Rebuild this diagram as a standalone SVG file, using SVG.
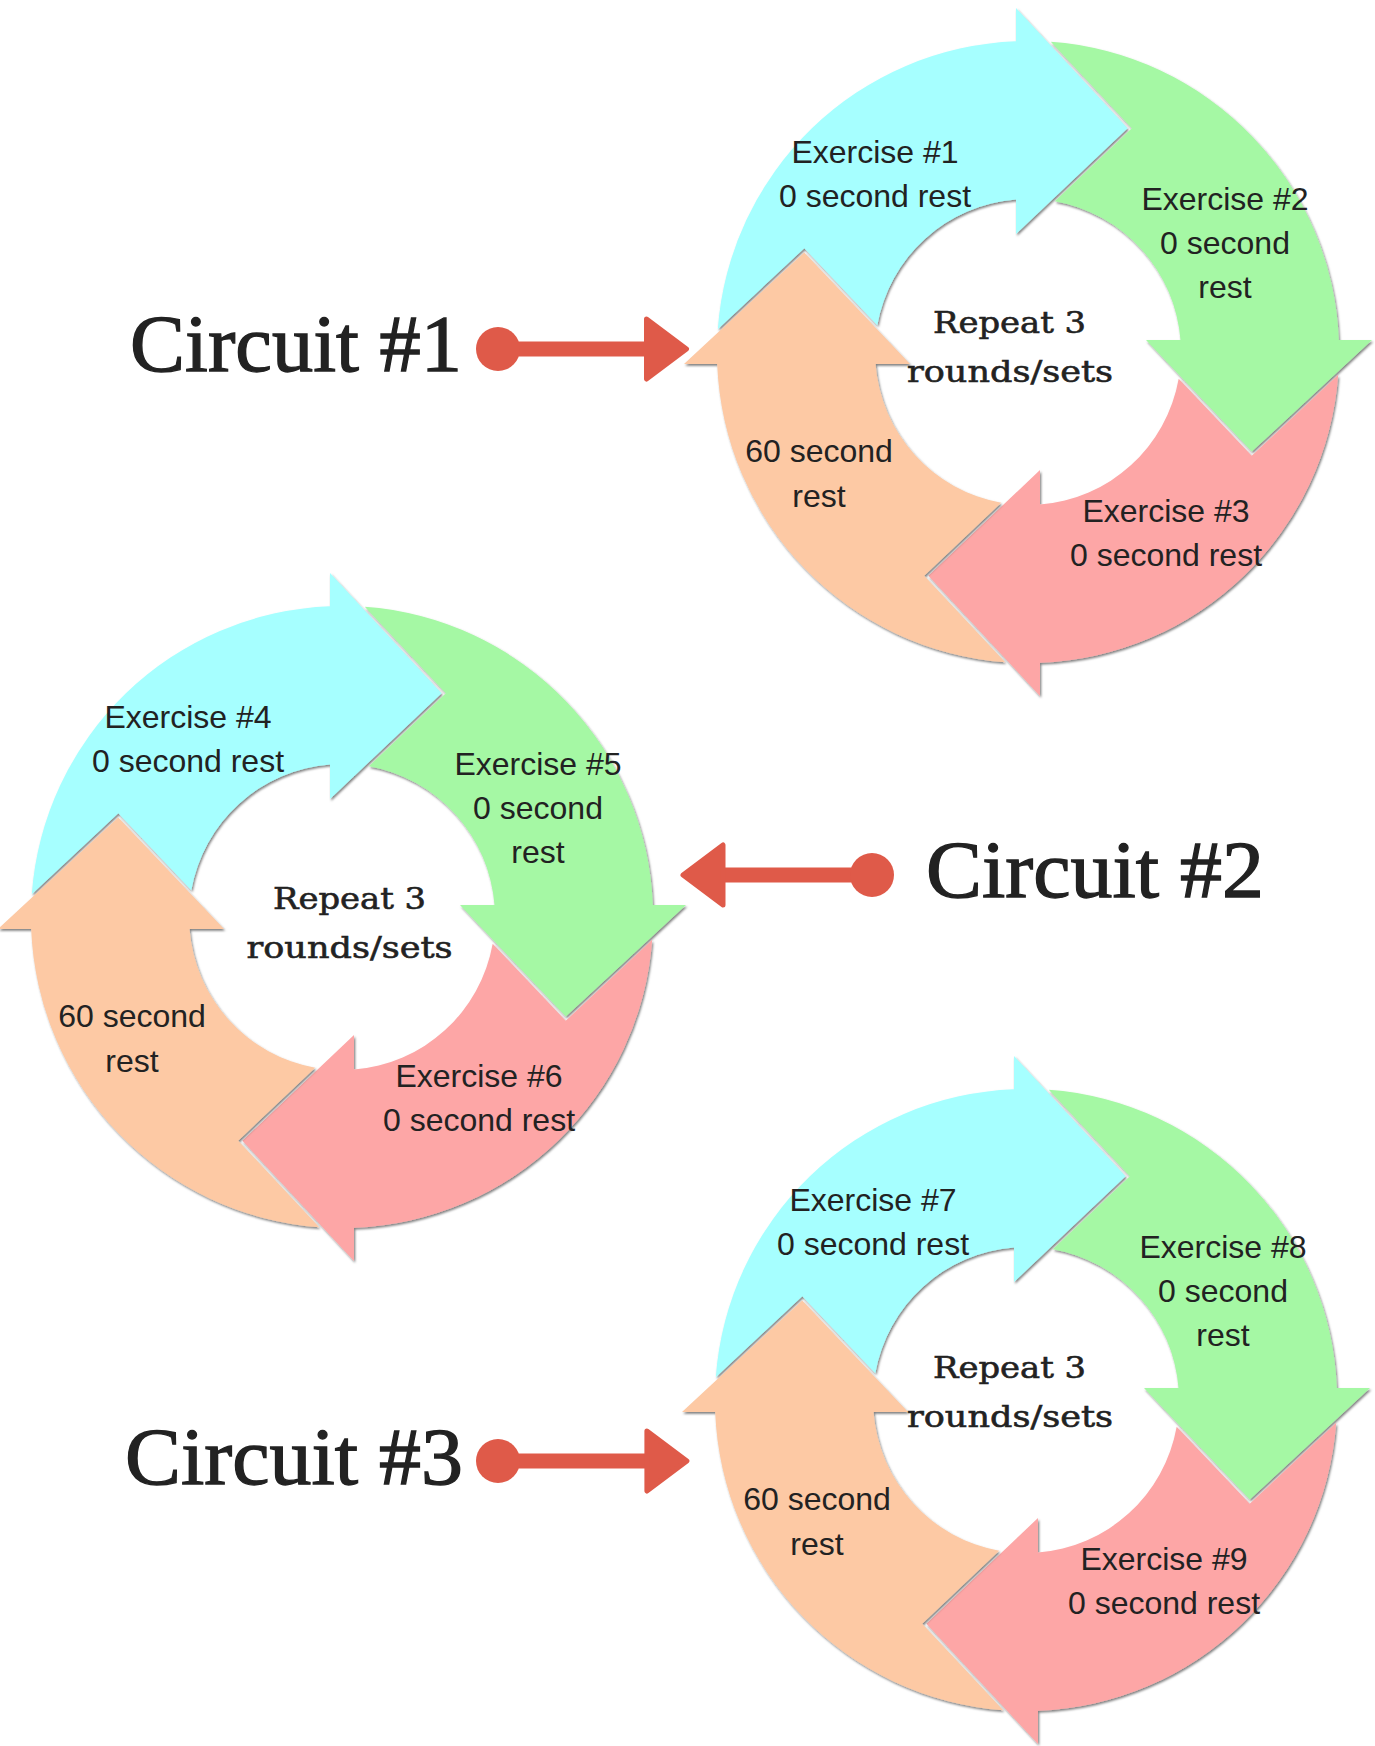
<svg xmlns="http://www.w3.org/2000/svg" xmlns:xlink="http://www.w3.org/1999/xlink" width="1375" height="1746" viewBox="0 0 1375 1746">
<style>
.lbl{font-family:"Liberation Sans",Arial,sans-serif;font-size:32px;fill:#222;text-anchor:middle}
.hub{font-family:"DejaVu Serif","Liberation Serif",serif;font-size:30px;fill:#222;stroke:#222;stroke-width:0.6}
.title{font-family:"Liberation Serif","Times New Roman",serif;font-size:81px;fill:#222;stroke:#222;stroke-width:1.3}
.cy{fill:#A6FFFF}.gr{fill:#A5F8A4}.pk{fill:#FDA6A6}.pc{fill:#FDC9A4}
.conn{stroke:#DF5A49;stroke-width:15;fill:none}
</style>
<defs>
<filter id="sh" x="-10%" y="-10%" width="120%" height="120%">
<feDropShadow dx="1.2" dy="1.8" stdDeviation="1.2" flood-color="#000" flood-opacity="0.5"/>
</filter>
<path id="seg" d="M-310.2,-22.8 A311,311 0 0 1 -12,-310.8 L-12,-344 L99.6,-223.8 L-12,-118 L-12,-152.5 A153,153 0 0 0 -150.7,-26.8 L-223.7,-103.8 Z"/>
<marker id="head" markerUnits="userSpaceOnUse" viewBox="0 -36 50 72" markerWidth="50" markerHeight="72" refX="2" refY="0" orient="auto">
<path d="M2.5,-30 L42.5,0 L2.5,30 Z" fill="#DF5A49" stroke="#DF5A49" stroke-width="5" stroke-linejoin="round"/>
</marker>
<marker id="dot" markerUnits="userSpaceOnUse" viewBox="-23 -23 46 46" markerWidth="46" markerHeight="46" refX="0" refY="0" orient="auto">
<circle r="22" fill="#DF5A49"/>
</marker>
</defs>
<rect width="1375" height="1746" fill="#fff"/>

<g id="circuit-1">
<g id="c1-ex1"><g transform="translate(1028,352)" filter="url(#sh)"><use href="#seg" class="cy"/></g>
<text class="lbl" x="875" y="163">Exercise #1</text><text class="lbl" x="875" y="207">0 second rest</text></g>
<g id="c1-ex2"><g transform="translate(1028,352)" filter="url(#sh)"><use href="#seg" class="gr" transform="rotate(90)"/></g>
<text class="lbl" x="1225" y="210">Exercise #2</text><text class="lbl" x="1225" y="254">0 second</text><text class="lbl" x="1225" y="298">rest</text></g>
<g id="c1-ex3"><g transform="translate(1028,352)" filter="url(#sh)"><use href="#seg" class="pk" transform="rotate(180)"/></g>
<text class="lbl" x="1166" y="522">Exercise #3</text><text class="lbl" x="1166" y="566">0 second rest</text></g>
<g id="c1-rest"><g transform="translate(1028,352)" filter="url(#sh)"><use href="#seg" class="pc" transform="rotate(270)"/></g>
<text class="lbl" x="819" y="462">60 second</text><text class="lbl" x="819" y="507">rest</text></g>
<g id="c1-hub"><text class="hub" x="933" y="333" textLength="153" lengthAdjust="spacingAndGlyphs">Repeat 3</text><text class="hub" x="907" y="382" textLength="206" lengthAdjust="spacingAndGlyphs">rounds/sets</text></g>
</g>

<g id="circuit-2">
<g id="c2-ex4"><g transform="translate(342,917)" filter="url(#sh)"><use href="#seg" class="cy"/></g>
<text class="lbl" x="188" y="728">Exercise #4</text><text class="lbl" x="188" y="772">0 second rest</text></g>
<g id="c2-ex5"><g transform="translate(342,917)" filter="url(#sh)"><use href="#seg" class="gr" transform="rotate(90)"/></g>
<text class="lbl" x="538" y="775">Exercise #5</text><text class="lbl" x="538" y="819">0 second</text><text class="lbl" x="538" y="863">rest</text></g>
<g id="c2-ex6"><g transform="translate(342,917)" filter="url(#sh)"><use href="#seg" class="pk" transform="rotate(180)"/></g>
<text class="lbl" x="479" y="1087">Exercise #6</text><text class="lbl" x="479" y="1131">0 second rest</text></g>
<g id="c2-rest"><g transform="translate(342,917)" filter="url(#sh)"><use href="#seg" class="pc" transform="rotate(270)"/></g>
<text class="lbl" x="132" y="1027">60 second</text><text class="lbl" x="132" y="1072">rest</text></g>
<g id="c2-hub"><text class="hub" x="273" y="909" textLength="153" lengthAdjust="spacingAndGlyphs">Repeat 3</text><text class="hub" x="246.5" y="958" textLength="206" lengthAdjust="spacingAndGlyphs">rounds/sets</text></g>
</g>

<g id="circuit-3">
<g id="c3-ex7"><g transform="translate(1026,1400)" filter="url(#sh)"><use href="#seg" class="cy"/></g>
<text class="lbl" x="873" y="1211">Exercise #7</text><text class="lbl" x="873" y="1255">0 second rest</text></g>
<g id="c3-ex8"><g transform="translate(1026,1400)" filter="url(#sh)"><use href="#seg" class="gr" transform="rotate(90)"/></g>
<text class="lbl" x="1223" y="1258">Exercise #8</text><text class="lbl" x="1223" y="1302">0 second</text><text class="lbl" x="1223" y="1346">rest</text></g>
<g id="c3-ex9"><g transform="translate(1026,1400)" filter="url(#sh)"><use href="#seg" class="pk" transform="rotate(180)"/></g>
<text class="lbl" x="1164" y="1570">Exercise #9</text><text class="lbl" x="1164" y="1614">0 second rest</text></g>
<g id="c3-rest"><g transform="translate(1026,1400)" filter="url(#sh)"><use href="#seg" class="pc" transform="rotate(270)"/></g>
<text class="lbl" x="817" y="1510">60 second</text><text class="lbl" x="817" y="1555">rest</text></g>
<g id="c3-hub"><text class="hub" x="933" y="1378" textLength="153" lengthAdjust="spacingAndGlyphs">Repeat 3</text><text class="hub" x="907" y="1427" textLength="206" lengthAdjust="spacingAndGlyphs">rounds/sets</text></g>
</g>

<g id="label-1"><text class="title" x="130" y="371" textLength="332" lengthAdjust="spacingAndGlyphs">Circuit #1</text></g>
<g id="label-2"><text class="title" x="926" y="897" textLength="338" lengthAdjust="spacingAndGlyphs">Circuit #2</text></g>
<g id="label-3"><text class="title" x="125" y="1484" textLength="338" lengthAdjust="spacingAndGlyphs">Circuit #3</text></g>

<g id="connectors">
<line class="conn" x1="498" y1="349" x2="646" y2="349" marker-start="url(#dot)" marker-end="url(#head)"/>
<line class="conn" x1="872" y1="875" x2="723.5" y2="875" marker-start="url(#dot)" marker-end="url(#head)"/>
<line class="conn" x1="498" y1="1461" x2="646.4" y2="1461" marker-start="url(#dot)" marker-end="url(#head)"/>
</g>
</svg>
